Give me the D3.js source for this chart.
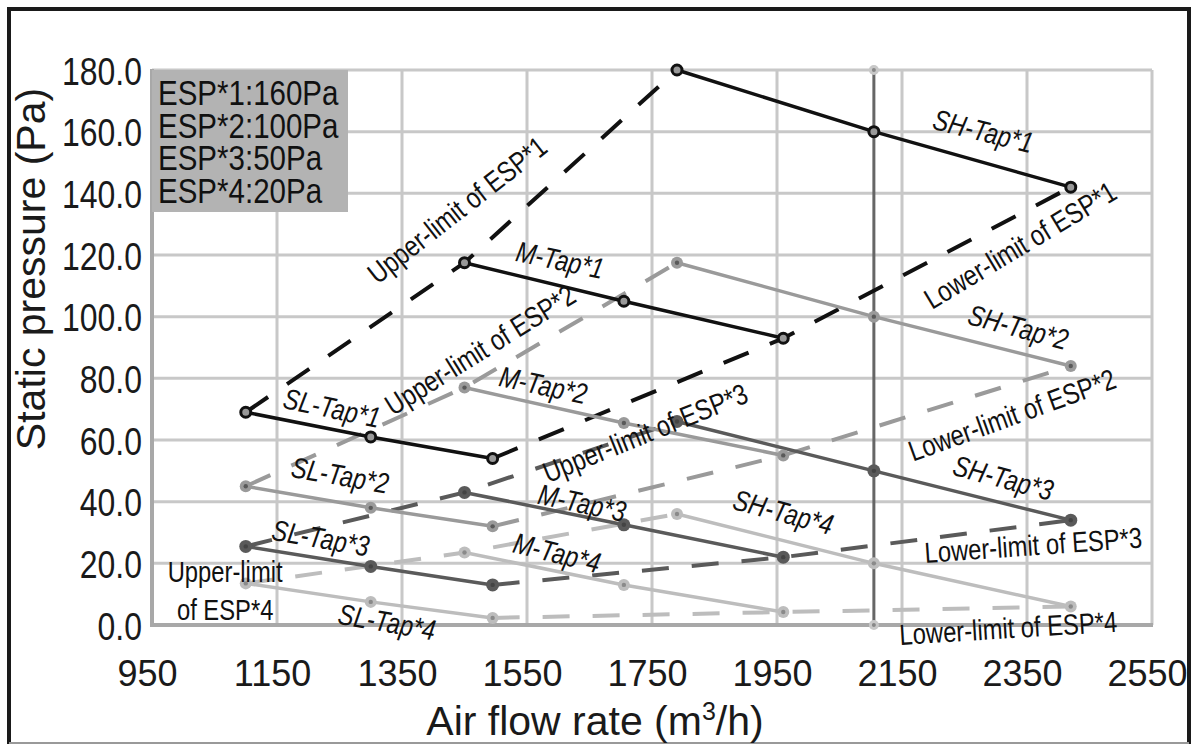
<!DOCTYPE html>
<html><head><meta charset="utf-8">
<script src="https://cdn.jsdelivr.net/npm/d3@7"></script>
<style>
html,body{margin:0;padding:0;background:#fff;}
svg{display:block;}
</style></head>
<body>
<svg id="chart" width="1198" height="744"></svg>
<script>
// ---- data ----
const tapNames = ["SL", "M", "SH"];
const slFlow = [1100, 1300, 1495];
const mFlow  = [1450, 1705, 1960];
const shFlow = [1790, 2105, 2420];
const espLevels = ["ESP*1", "ESP*2", "ESP*3", "ESP*4"];
const espPa = [160, 100, 50, 20];
// static pressure for each ESP level, per tap [SL, M, SH]
const esp1SL = [69, 61, 54],    esp1M = [117.5, 105, 93], esp1SH = [180, 160, 142];
const esp2SL = [45, 38, 32],    esp2M = [77, 65.5, 55],   esp2SH = [117.5, 100, 84];
const esp3SL = [25.5, 19, 13],  esp3M = [43, 32.5, 22],   esp3SH = [66, 50, 34];
const esp4SL = [13.5, 7.5, 2.3],esp4M = [23.5, 13, 4.2],  esp4SH = [36, 20, 6];
const refFlow = 2105;
const xTicks = [950, 1150, 1350, 1550, 1750, 1950, 2150, 2350, 2550];
const yTicks = [0, 20, 40, 60, 80, 100, 120, 140, 160, 180];

// annotation text: [text, flow, pressure, angle, italic]
const labels = [
  ["Upper-limit of ESP*1", 1438, 134.6, -38],
  ["Lower-limit of ESP*1", 2339, 123.2, -31],
  ["M-Tap*1", 1603, 118.4, 12, true],
  ["SH-Tap*1", 2280, 160.2, 14, true],
  ["SH-Tap*2", 2336, 96.6, 15, true],
  ["Upper-limit of ESP*2", 1475, 89.2, -32],
  ["M-Tap*2", 1576, 77.8, 12, true],
  ["Upper-limit of ESP*3", 1739, 62.3, -22],
  ["Lower-limit of ESP*2", 2326, 68.1, -20],
  ["SH-Tap*3", 2312, 47.7, 15, true],
  ["SL-Tap*1", 1238, 70.4, 12, true],
  ["SL-Tap*2", 1251, 48.6, 10, true],
  ["SL-Tap*3", 1220, 28.2, 10, true],
  ["M-Tap*3", 1638, 39.6, 12, true],
  ["M-Tap*4", 1598, 23.4, 14, true],
  ["SH-Tap*4", 1960, 36.6, 15, true],
  ["Lower-limit of ESP*3", 2360, 25.9, -4],
  ["Lower-limit of ESP*4", 2320, -1, -3.5],
  ["SL-Tap*4", 1326, 1, 10, true]
];

// ---- styles ----
const lineColor = ["#111111", "#9a9a9a", "#5a5a5a", "#bdbdbd"];
const dotColor  = ["#999999", "#5a5a5a", "#444444", "#8a8a8a"];
const font = "'Liberation Sans',Arial,sans-serif";
const SX = 0.82; // horizontal condensing

const svg = d3.select("#chart");
const x = d3.scaleLinear().domain([950, 2550]).range([152, 1152]);
const y = d3.scaleLinear().domain([0, 180]).range([625, 70]);

// frame
svg.append("rect").attr("x", 9).attr("y", 9).attr("width", 1180).attr("height", 745)
  .attr("fill", "none").attr("stroke", "#1a1a1a").attr("stroke-width", 4);
svg.append("line").attr("x1", 9).attr("x2", 1189).attr("y1", 743).attr("y2", 743)
  .attr("stroke", "#999").attr("stroke-width", 2);

// grid
const g = svg.append("g");
g.selectAll(".vg").data(xTicks).join("line")
  .attr("x1", d => x(d)).attr("x2", d => x(d)).attr("y1", y(0)).attr("y2", y(180))
  .attr("stroke", "#c8c8c8").attr("stroke-width", 3);
g.selectAll(".hg").data(yTicks).join("line")
  .attr("x1", x(950)).attr("x2", x(2550)).attr("y1", d => y(d)).attr("y2", d => y(d))
  .attr("stroke", "#c8c8c8").attr("stroke-width", 3);
// axis lines
g.append("line").attr("x1", x(950)).attr("x2", x(950)).attr("y1", y(0) + 2).attr("y2", y(180) - 1)
  .attr("stroke", "#a8a8a8").attr("stroke-width", 4);
g.append("line").attr("x1", x(950) - 2).attr("x2", x(2550) + 1).attr("y1", y(0)).attr("y2", y(0))
  .attr("stroke", "#a8a8a8").attr("stroke-width", 4);

// y axis tick labels (condensed)
const yAxis = svg.append("g").attr("transform", `translate(${x(950)},0)`)
  .call(d3.axisLeft(y).tickValues(yTicks).tickFormat(d3.format(".1f")).tickSize(0).tickPadding(10));
yAxis.select(".domain").remove();
yAxis.selectAll("text").attr("font-family", font).attr("font-size", 39).attr("fill", "#1a1a1a")
  .attr("x", 0).attr("dy", "0.36em").attr("transform", `translate(-10,0) scale(${SX},1)`);
// x axis tick labels
const xAxis = svg.append("g").attr("transform", `translate(0,${y(0)})`)
  .call(d3.axisBottom(x).tickValues(xTicks).tickFormat(d3.format("d")).tickSize(0).tickPadding(35));
xAxis.select(".domain").remove();
xAxis.selectAll("text").attr("font-family", font).attr("font-size", 36).attr("fill", "#1a1a1a")
  .attr("dx", -5);

// axis titles
const xt = svg.append("text").attr("x", 595).attr("y", 735).attr("text-anchor", "middle")
  .attr("font-family", font).attr("font-size", 41).attr("fill", "#1a1a1a");
xt.append("tspan").text("Air flow rate (m");
xt.append("tspan").text("3").attr("font-size", 25).attr("dy", -15);
xt.append("tspan").text("/h)").attr("dy", 15);
svg.append("text").attr("transform", "translate(45,269) rotate(-90)").attr("text-anchor", "middle")
  .attr("font-family", font).attr("font-size", 41).attr("fill", "#1a1a1a").text("Static pressure (Pa)");

// reference vertical line
svg.append("line").attr("x1", x(refFlow)).attr("x2", x(refFlow)).attr("y1", y(0)).attr("y2", y(180))
  .attr("stroke", "#666").attr("stroke-width", 3);

// series
const espData = [
  [esp1SL, esp1M, esp1SH],
  [esp2SL, esp2M, esp2SH],
  [esp3SL, esp3M, esp3SH],
  [esp4SL, esp4M, esp4SH]
];
const flows = [slFlow, mFlow, shFlow];
const line = d3.line().x(d => x(d[0])).y(d => y(d[1]));

// limit dashed lines
espData.forEach((taps, i) => {
  const upper = taps.map((p, t) => [flows[t][0], p[0]]);
  const lower = taps.map((p, t) => [flows[t][2], p[2]]);
  [upper, lower].forEach(pts => {
    svg.append("path").attr("d", line(pts)).attr("fill", "none")
      .attr("stroke", lineColor[i]).attr("stroke-width", 4)
      .attr("stroke-dasharray", "27,23");
  });
});
// tap solid lines
espData.forEach((taps, i) => {
  taps.forEach((p, t) => {
    const pts = p.map((v, k) => [flows[t][k], v]);
    svg.append("path").attr("d", line(pts)).attr("fill", "none")
      .attr("stroke", lineColor[i]).attr("stroke-width", 3.5);
  });
});
// markers
espData.forEach((taps, i) => {
  taps.forEach((p, t) => {
    p.forEach((v, k) => {
      const cx = x(flows[t][k]), cy = y(v);
      if (i === 0) {
        svg.append("circle").attr("cx", cx).attr("cy", cy).attr("r", 5)
          .attr("fill", dotColor[i]).attr("stroke", lineColor[i]).attr("stroke-width", 3);
      } else {
        svg.append("circle").attr("cx", cx).attr("cy", cy).attr("r", i === 2 ? 6.5 : 6)
          .attr("fill", lineColor[i]);
        svg.append("circle").attr("cx", cx).attr("cy", cy).attr("r", 2.2)
          .attr("fill", dotColor[i]);
      }
    });
  });
});
// end markers of reference line
[0, 180].forEach(v => {
  svg.append("circle").attr("cx", x(refFlow)).attr("cy", y(v)).attr("r", 5)
    .attr("fill", "#c8c8c8");
  svg.append("circle").attr("cx", x(refFlow)).attr("cy", y(v)).attr("r", 2)
    .attr("fill", "#888");
});

// labels
labels.forEach(([txt, fx, py, ang, ital]) => {
  svg.append("text")
    .attr("transform", `translate(${x(fx)},${y(py)}) rotate(${ang}) scale(${SX},1)`)
    .attr("text-anchor", "middle").attr("dy", "0.35em")
    .attr("font-family", font).attr("font-size", 29)
    .attr("font-style", ital ? "italic" : "normal")
    .attr("fill", "#111").text(txt);
});
const u4 = svg.append("text").attr("text-anchor", "middle")
  .attr("transform", `translate(${x(1067)},0) scale(${SX},1)`)
  .attr("font-family", font).attr("font-size", 29).attr("fill", "#111");
u4.append("tspan").attr("x", 0).attr("y", 582).text("Upper-limit");
u4.append("tspan").attr("x", 0).attr("y", 620).text("of ESP*4");

// legend box
svg.append("rect").attr("x", 152).attr("y", 70).attr("width", 196).attr("height", 142)
  .attr("fill", "#b3b3b3");
espLevels.forEach((e, i) => {
  svg.append("text").attr("transform", `translate(158,${105 + i * 32.7}) scale(${SX},1)`)
    .attr("font-family", font).attr("font-size", 36).attr("fill", "#111")
    .text(`${e}:${espPa[i]}Pa`);
});
</script>
</body></html>
